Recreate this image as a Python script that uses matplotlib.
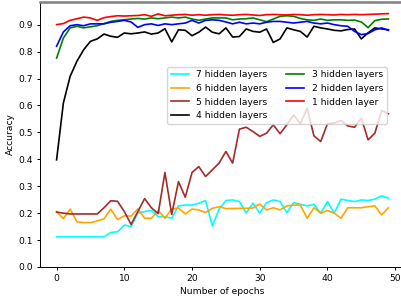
import matplotlib
matplotlib.use("Agg")
import matplotlib.pyplot as plt
import numpy as np

epochs = np.arange(50)

acc_7 = [0.112, 0.112, 0.112, 0.112, 0.112, 0.112, 0.112, 0.112, 0.128, 0.131,
         0.156, 0.150, 0.200, 0.206, 0.210, 0.187, 0.187, 0.181, 0.227, 0.230,
         0.230, 0.237, 0.247, 0.152, 0.215, 0.247, 0.249, 0.243, 0.200, 0.237,
         0.200, 0.239, 0.249, 0.243, 0.202, 0.239, 0.233, 0.227, 0.233, 0.200,
         0.243, 0.200, 0.252, 0.247, 0.243, 0.249, 0.247, 0.252, 0.264, 0.256]
acc_6 = [0.206, 0.179, 0.215, 0.168, 0.165, 0.165, 0.171, 0.179, 0.215, 0.176,
         0.190, 0.189, 0.216, 0.181, 0.181, 0.210, 0.181, 0.216, 0.218, 0.197,
         0.215, 0.212, 0.202, 0.218, 0.224, 0.217, 0.217, 0.218, 0.218, 0.219,
         0.234, 0.212, 0.220, 0.212, 0.227, 0.230, 0.230, 0.181, 0.220, 0.200,
         0.210, 0.200, 0.181, 0.220, 0.220, 0.220, 0.224, 0.227, 0.193, 0.220]
acc_5 = [0.204, 0.200, 0.197, 0.197, 0.197, 0.197, 0.197, 0.220, 0.246, 0.244,
         0.206, 0.158, 0.206, 0.254, 0.220, 0.198, 0.351, 0.195, 0.317, 0.259,
         0.351, 0.373, 0.336, 0.361, 0.386, 0.429, 0.386, 0.512, 0.519, 0.503,
         0.485, 0.497, 0.528, 0.495, 0.528, 0.565, 0.532, 0.590, 0.487, 0.466,
         0.532, 0.535, 0.544, 0.524, 0.519, 0.553, 0.472, 0.497, 0.581, 0.569]
acc_4 = [0.398, 0.609, 0.708, 0.764, 0.807, 0.838, 0.847, 0.865, 0.857, 0.853,
         0.869, 0.866, 0.869, 0.873, 0.865, 0.869, 0.885, 0.836, 0.881, 0.879,
         0.859, 0.872, 0.891, 0.872, 0.866, 0.888, 0.854, 0.856, 0.884, 0.875,
         0.872, 0.884, 0.834, 0.847, 0.888, 0.881, 0.875, 0.854, 0.894, 0.888,
         0.884, 0.879, 0.877, 0.882, 0.884, 0.847, 0.870, 0.888, 0.884, 0.881]
acc_3 = [0.776, 0.850, 0.888, 0.894, 0.888, 0.892, 0.896, 0.904, 0.912, 0.916,
         0.918, 0.921, 0.923, 0.921, 0.925, 0.922, 0.925, 0.928, 0.925, 0.928,
         0.921, 0.916, 0.921, 0.925, 0.925, 0.925, 0.918, 0.921, 0.922, 0.925,
         0.918, 0.911, 0.921, 0.931, 0.933, 0.931, 0.923, 0.918, 0.916, 0.921,
         0.916, 0.918, 0.918, 0.916, 0.917, 0.910, 0.889, 0.915, 0.920, 0.921]
acc_2 = [0.820, 0.873, 0.896, 0.900, 0.896, 0.903, 0.903, 0.903, 0.909, 0.912,
         0.916, 0.910, 0.890, 0.900, 0.903, 0.897, 0.903, 0.900, 0.903, 0.906,
         0.916, 0.906, 0.916, 0.918, 0.916, 0.910, 0.903, 0.909, 0.903, 0.906,
         0.903, 0.909, 0.912, 0.912, 0.909, 0.906, 0.909, 0.912, 0.906, 0.903,
         0.906, 0.900, 0.896, 0.894, 0.875, 0.863, 0.867, 0.881, 0.888, 0.879]
acc_1 = [0.900, 0.904, 0.916, 0.922, 0.928, 0.925, 0.916, 0.926, 0.930, 0.933,
         0.932, 0.933, 0.934, 0.937, 0.931, 0.940, 0.933, 0.935, 0.937, 0.938,
         0.935, 0.937, 0.935, 0.937, 0.938, 0.936, 0.935, 0.937, 0.938, 0.936,
         0.934, 0.937, 0.938, 0.937, 0.936, 0.938, 0.937, 0.935, 0.937, 0.938,
         0.937, 0.936, 0.938, 0.937, 0.938, 0.937, 0.938, 0.939, 0.940, 0.941]

series = [
    ("7 hidden layers", acc_7, "cyan"),
    ("6 hidden layers", acc_6, "orange"),
    ("5 hidden layers", acc_5, "brown"),
    ("4 hidden layers", acc_4, "black"),
    ("3 hidden layers", acc_3, "green"),
    ("2 hidden layers", acc_2, "blue"),
    ("1 hidden layer", acc_1, "red"),
]

plt.rcParams.update({
    "font.size": 6.6,
    "axes.linewidth": 0.7,
    "axes.labelpad": 2.8,
    "xtick.major.size": 2.5,
    "ytick.major.size": 2.5,
    "xtick.major.width": 0.7,
    "ytick.major.width": 0.7,
    "xtick.major.pad": 2.5,
    "ytick.major.pad": 2.5,
})

fig = plt.figure(figsize=(4.01, 3.02), dpi=100)
ax = fig.add_axes([40 / 401, 35 / 302, 365 / 401, 265.5 / 302])

for label, vals, color in series:
    ax.plot(epochs, vals, color=color, linewidth=1.2, label=label)

ax.set_xlim(-2.45, 51.45)
ax.set_ylim(0, 0.986)
ax.set_yticks(np.arange(0, 1.0, 0.1))
ax.set_xlabel("Number of epochs")
ax.set_ylabel("Accuracy")
ax.spines["top"].set_color("gray")
ax.spines["top"].set_linewidth(1.8)

ax.legend(ncol=2, loc="upper left", bbox_to_anchor=(0.348, 0.754),
          borderaxespad=0)

fig.savefig("out.png", dpi=100)
